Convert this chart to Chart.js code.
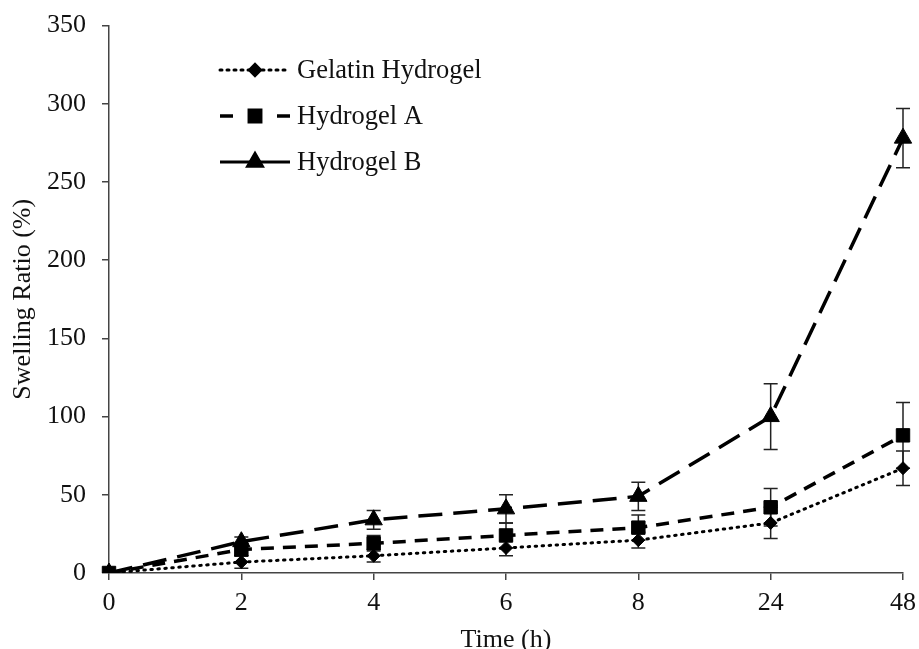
<!DOCTYPE html>
<html>
<head>
<meta charset="utf-8">
<script src="https://cdn.jsdelivr.net/npm/chart.js@4"></script>
<style>
html,body{margin:0;padding:0;background:#fff;}
#wrap{width:919px;height:649px;position:relative;}
</style>
</head>
<body>
<div id="wrap"><canvas id="c" width="919" height="649"></canvas></div>
<script>
const timeLabels = ['0','2','4','6','8','24','48'];
const gelatin    = [0, 7, 11, 16, 21, 32, 67];
const gelatinErr = [0, 4, 4, 5, 5, 10, 11];
const hydroA     = [0, 15, 19, 24, 29, 42, 88];
const hydroAErr  = [0, 4, 5, 8, 8, 12, 21];
const hydroB     = [0, 20, 34, 41, 49, 100, 278];
const hydroBErr  = [0, 3, 6, 9, 9, 21, 19];
const yTicks     = [0, 50, 100, 150, 200, 250, 300, 350];

const FONT = "'Liberation Serif', 'Times New Roman', serif";
const FS = 26;

const errorBars = {
  id: 'errorBars',
  beforeDatasetsDraw(chart) {
    const ctx = chart.ctx;
    const y = chart.scales.y;
    const cap = 7;
    chart.data.datasets.forEach((ds, di) => {
      const meta = chart.getDatasetMeta(di);
      ds.errors.forEach((e, i) => {
        if (!e) return;
        const pt = meta.data[i];
        const px = pt.x;
        const top = y.getPixelForValue(ds.data[i] + e);
        const bot = y.getPixelForValue(ds.data[i] - e);
        ctx.save();
        ctx.strokeStyle = '#222';
        ctx.lineWidth = 1.5;
        ctx.beginPath();
        ctx.moveTo(px, top); ctx.lineTo(px, bot);
        ctx.moveTo(px - cap, top); ctx.lineTo(px + cap, top);
        ctx.moveTo(px - cap, bot); ctx.lineTo(px + cap, bot);
        ctx.stroke();
        ctx.restore();
      });
    });
  }
};

const customLegend = {
  id: 'customLegend',
  afterDraw(chart) {
    const ctx = chart.ctx;
    const rows = [
      {y: 70, dash: [2, 5], cap: 'round', width: 3},
      {y: 116, dash: [], cap: 'butt', width: 3.5},
      {y: 162, dash: [], cap: 'butt', width: 3}
    ];
    chart.data.datasets.forEach((ds, i) => {
      const r = rows[i];
      const x0 = 220, x1 = 290, mx = 255;
      ctx.save();
      ctx.strokeStyle = '#000';
      ctx.lineWidth = r.width;
      ctx.lineCap = r.cap;
      ctx.setLineDash(r.dash);
      ctx.beginPath();
      if (i === 1) {
        ctx.moveTo(x0, r.y); ctx.lineTo(x0 + 13, r.y);
        ctx.moveTo(x1 - 13, r.y); ctx.lineTo(x1, r.y);
      } else {
        ctx.moveTo(x0, r.y); ctx.lineTo(x1, r.y);
      }
      ctx.stroke();
      ctx.setLineDash([]);
      Chart.helpers.drawPoint(ctx, {
        pointStyle: ds.pointStyle, radius: ds.pointRadius * 0.85, rotation: 0, borderWidth: 1
      }, mx, r.y);
      ctx.fillStyle = '#000';
      ctx.fill();
      ctx.fillStyle = '#111';
      ctx.font = '26.5px ' + FONT;
      ctx.textBaseline = 'middle';
      ctx.textAlign = 'left';
      ctx.fillText(ds.label, 297, r.y + 1);
      ctx.restore();
    });
  }
};

const baseDs = {
  borderColor: '#000',
  backgroundColor: '#000',
  pointBackgroundColor: '#000',
  pointBorderColor: '#000',
  pointBorderWidth: 1,
  tension: 0,
  fill: false
};

new Chart(document.getElementById('c'), {
  type: 'line',
  data: {
    labels: timeLabels,
    datasets: [
      Object.assign({}, baseDs, {
        label: 'Gelatin Hydrogel', data: gelatin, errors: gelatinErr,
        borderWidth: 3, borderDash: [1.5, 5.5], borderCapStyle: 'round',
        pointStyle: 'rectRot', pointRadius: 6.5
      }),
      Object.assign({}, baseDs, {
        label: 'Hydrogel A', data: hydroA, errors: hydroAErr,
        borderWidth: 3.5, borderDash: [13, 9],
        pointStyle: 'rect', pointRadius: 9.5
      }),
      Object.assign({}, baseDs, {
        label: 'Hydrogel B', data: hydroB, errors: hydroBErr,
        borderWidth: 3.5, borderDash: [24, 11],
        pointStyle: 'triangle', pointRadius: 10
      })
    ]
  },
  options: {
    responsive: false,
    animation: false,
    devicePixelRatio: 1,
    layout: {padding: {top: 25.5, right: 16, left: 0, bottom: 0}},
    plugins: {legend: {display: false}, tooltip: {enabled: false}},
    scales: {
      x: {
        type: 'category',
        offset: false,
        grid: {display: true, drawOnChartArea: false, drawTicks: true, tickLength: 7, color: '#444', lineWidth: 1.5},
        border: {display: true, color: '#444', width: 1.5},
        ticks: {color: '#111', font: {family: FONT, size: FS}, padding: 8, maxRotation: 0, autoSkip: false},
        title: {display: true, text: 'Time (h)', color: '#111', font: {family: FONT, size: FS, lineHeight: 0.7}, padding: {top: 0, bottom: 0}},
        afterFit(s) { s.height = 76; s.paddingLeft = 0; s.paddingRight = 0; }
      },
      y: {
        min: 0, max: 350,
        afterBuildTicks(s) { s.ticks = yTicks.map(v => ({value: v})); },
        grid: {display: true, drawOnChartArea: false, drawTicks: true, tickLength: 7, color: '#444', lineWidth: 1.5},
        border: {display: true, color: '#444', width: 1.5},
        ticks: {color: '#111', font: {family: FONT, size: FS}, padding: 16},
        title: {display: true, text: 'Swelling Ratio (%)', color: '#111', font: {family: FONT, size: FS}, padding: {top: 8, bottom: 0}},
        afterFit(s) { s.width = 109; s.paddingTop = 0; s.paddingBottom = 0; }
      }
    }
  },
  plugins: [errorBars, customLegend]
});
</script>
</body>
</html>
